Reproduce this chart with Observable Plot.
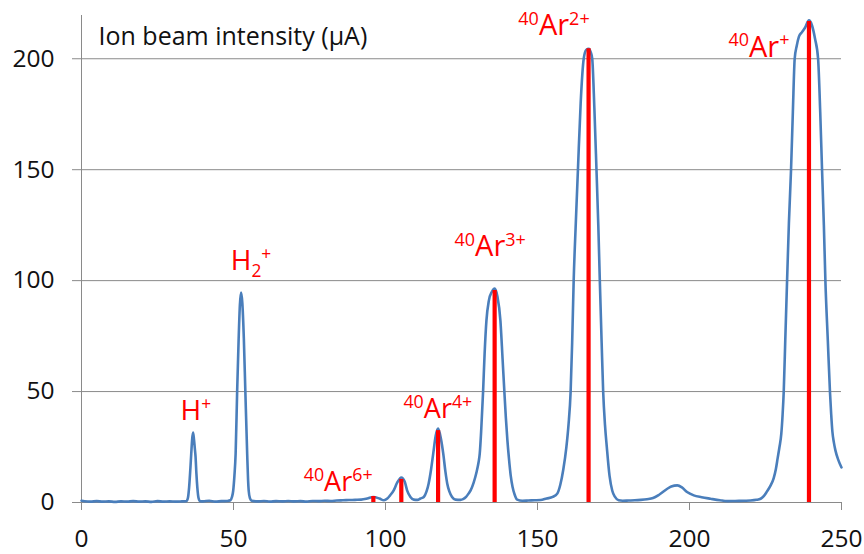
<!DOCTYPE html>
<html>
<head>
<meta charset="utf-8">
<script src="https://cdn.jsdelivr.net/npm/d3@7"></script>
<script src="https://cdn.jsdelivr.net/npm/@observablehq/plot@0.6"></script>
<style>
  html, body { margin: 0; padding: 0; background: #fff; }
  #chart svg { display: block; }
</style>
</head>
<body>
<div id="chart"></div>
<script>
// ---- Data ----
const specX = [0,1,3,5,7,9,11,13,15,17,19,21,23,25,27,29,31,33,34.5,
  35.0,35.4,35.8,36.1,36.4,36.7,37.0,37.3,37.5,37.8,38.1,38.5,39,
  40,42,44,46,48,49,
  49.5,49.9,50.3,50.7,51.2,51.7,52.1,52.5,52.9,53.4,53.9,54.5,54.8,55.0,55.4,56,
  58,60,62,64,66,68,70,72,74,76,78,80,82,84,86,88,90,92,94,96,98,99.5,
  100.6,101.5,102.7,103.8,105.2,106.3,107.1,108.2,109.3,110.5,111.5,112.6,
  113.5,114.2,115.0,115.7,116.5,117.3,118.2,119.0,119.7,120.3,121.0,121.9,123,
  124.7,125.5,126.5,127.3,128.0,129,130,130.6,131.0,131.5,132.1,132.6,133.2,134,135,135.9,136.8,137.8,138.5,139.1,139.6,140.1,140.6,141.2,141.8,142.5,143.3,
  145,147,149,151,153,155,156.5,157.5,158.5,159.5,160.2,160.9,161.4,161.9,162.6,163.3,164.2,165.2,166,166.9,167.5,168.0,168.7,169.4,170,170.5,171.1,171.6,172.2,172.8,173.7,174.6,175.5,176.7,
  178,180,182,184,186,188,190,192.7,194,196,197.5,199.2,201.4,204,206.9,210,212.4,215,218,220.1,222,223.4,
  224.5,225.5,226.6,227.7,228.4,229.0,229.6,230.2,230.6,231.0,231.5,232.1,232.7,233.4,234.0,234.6,235.3,236.0,237,238,239.3,240.3,241.3,242.3,243.0,243.6,244.2,244.7,245.5,246.2,246.6,247.0,247.5,248.0,249,250];
const specY = [0.8,0.6,0.4,0.6,0.4,0.5,0.3,0.5,0.4,0.6,0.4,0.5,0.3,0.6,0.4,0.5,0.4,0.5,0.6,
  2,6.8,15,22,28.5,31.5,28.5,24,21,13,6.8,2,0.6,
  0.5,0.8,0.4,0.6,0.7,1.0,
  2.5,5.3,12,22,50,74,89,94.6,90,74,50,22,10,5.3,2,0.8,
  0.5,0.7,0.4,0.6,0.5,0.7,0.5,0.6,0.4,0.7,0.6,0.8,0.7,0.9,1.0,1.1,1.2,1.3,1.8,2.5,1.8,1.0,
  1.8,3.2,5.5,8.8,11.3,9.5,5.5,2.5,1.3,1.2,1.8,2.5,
  5,8.6,15,22,30,33.3,29,22,14,8.6,5,2.5,1.3,
  1.2,1.5,2.5,4,5.5,9,14,18,22,33,50,67,82,91,95,96.4,93,82,65,50,38,28,20,12,7,3.5,1.3,
  0.8,0.9,1.0,1.1,1.8,2.5,4,8,15,25,35,50,72,100,126,150,180,200,204,204.5,203,200,178,150,125,100,72,50,35,25,12,5.3,2.5,1,
  0.8,0.9,1.0,1.2,1.5,2.0,3.5,6.2,7.2,7.7,6.8,4.7,3.2,2.4,1.7,1.0,0.6,0.7,0.8,0.9,1.2,1.7,
  3,5,7.5,11,15,20,25,31,39,50,73,100,126,150,176,200,206,210,212,214,217.3,215,209,200,176,150,125,100,73,50,40,32,27,23.5,19,15.8];

const peakX = [96.0, 105.2, 117.3, 135.9, 166.8, 239.3];
const peakY = [2.7, 10.4, 32.4, 95.5, 204.5, 216.8];

const labelText = ["H^{+}", "H_{2}^{+}", "^{40}Ar^{6+}", "^{40}Ar^{4+}", "^{40}Ar^{3+}", "^{40}Ar^{2+}", "^{40}Ar^{+}"];
const labelX = [32.6, 49.1, 73.1, 105.9, 122.7, 143.7, 212.8];
const labelY = [37.0, 104.6, 5.4, 38.3, 110.9, 210.5, 201.0];

const xTicks = [0, 50, 100, 150, 200, 250];
const yTicks = [0, 50, 100, 150, 200];
const titleText = "Ion beam intensity (\u00b5A)";

// ---- Styles ----
const labelSizes = [28, 28, 27, 27, 29, 29, 29];
const gray = "#8a8a8a";

const spectrum = specX.map((x, i) => ({x, y: specY[i]}));
const peaks = peakX.map((x, i) => ({x, y: peakY[i]}));
const labels = labelText.map((t, i) => ({t, x: labelX[i], y: labelY[i], size: labelSizes[i]}));

const chart = Plot.plot({
  width: 864,
  height: 554,
  marginLeft: 81,
  marginRight: 23,
  marginTop: 15,
  marginBottom: 52,
  style: {fontFamily: "'Open Sans', sans-serif", background: "#fff", overflow: "visible"},
  x: {domain: [0, 250]},
  y: {domain: [0, 219.5]},
  marks: [
    Plot.gridY(yTicks.filter(d => d > 0), {stroke: gray, strokeOpacity: 1, strokeWidth: 1}),
    Plot.ruleX([0], {stroke: gray, strokeWidth: 1}),
    Plot.ruleY([0], {stroke: gray, strokeWidth: 1}),
    Plot.axisY({ticks: yTicks, tickSize: 9, tickPadding: 18, fontSize: 24.5, stroke: gray, fill: "#111", label: null, tickFormat: d => String(d)}),
    Plot.axisX({ticks: xTicks, tickSize: 8, tickPadding: 19, fontSize: 24.5, stroke: gray, fill: "#111", label: null, tickFormat: d => String(d)}),
    Plot.line(spectrum, {x: "x", y: "y", stroke: "#4a7ebb", strokeWidth: 2.6, curve: "monotone-x"}),
    Plot.ruleX(peaks, {x: "x", y1: 0, y2: "y", stroke: "#ff0000", strokeWidth: 4.2}),
    Plot.text(labels, {x: "x", y: "y", text: "t", textAnchor: "start", lineAnchor: "bottom", fill: "#ff0000", fontSize: d => d.size}),
    Plot.text([titleText], {frameAnchor: "top-left", dx: 17, dy: 12, lineAnchor: "top", textAnchor: "start", fontSize: 25, fill: "#111"})
  ]
});

document.getElementById("chart").appendChild(chart);

// Rich text: ^{..} superscript, _{..} subscript
const NS = "http://www.w3.org/2000/svg";
chart.querySelectorAll("text").forEach(el => {
  const s = el.textContent;
  if (!/[\^_]\{/.test(s)) return;
  const size = parseFloat(getComputedStyle(el).fontSize) || 28;
  const supScale = size < 28 ? 0.66 : 0.62;
  el.textContent = "";
  let shift = 0;
  for (const m of s.matchAll(/([\^_])\{([^}]*)\}|([^\^_]+)/g)) {
    const t = document.createElementNS(NS, "tspan");
    let target = 0, fs = size, txt;
    if (m[1] === "^") { target = -0.37 * size; fs = supScale * size; txt = m[2]; }
    else if (m[1] === "_") { target = 0.24 * size; fs = supScale * size; txt = m[2]; }
    else { txt = m[3]; }
    t.textContent = txt;
    t.setAttribute("font-size", fs);
    t.setAttribute("dy", (target - shift).toFixed(2));
    shift = target;
    el.appendChild(t);
  }
});
</script>
</body>
</html>
